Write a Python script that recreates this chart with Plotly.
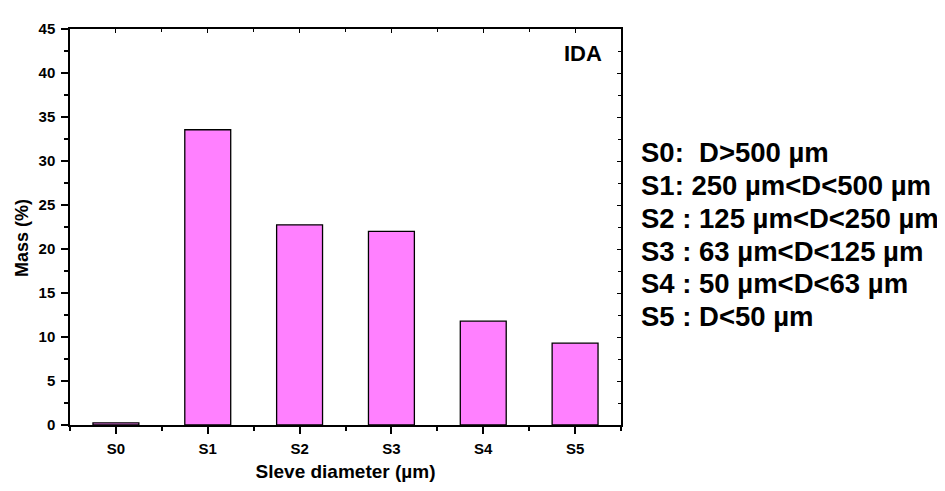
import plotly.graph_objects as go

categories = ["S0", "S1", "S2", "S3", "S4", "S5"]
mass = [0.25, 33.55, 22.75, 22.0, 11.8, 9.3]
y_ticks = [0, 5, 10, 15, 20, 25, 30, 35, 40, 45]
legend_lines = [
    "S0:  D>500 µm",
    "S1: 250 µm<D<500 µm",
    "S2 : 125 µm<D<250 µm",
    "S3 : 63 µm<D<125 µm",
    "S4 : 50 µm<D<63 µm",
    "S5 : D<50 µm",
]
sample_label = "IDA"

FONT = "Liberation Sans, Arial, sans-serif"
xpos = list(range(len(categories)))

# figure is drawn with an 8px page margin, so compensate
W, H = 937, 483
ML, MR, MT, MB = 62, 324, 12, 61
plot_h = H - MT - MB  # 410


def ypaper(ypix_page):
    # page pixel (reference coords) -> paper fraction
    return (430 - ypix_page) / plot_h


fig = go.Figure()
fig.add_trace(go.Bar(
    x=xpos, y=mass, width=0.5,
    marker=dict(color="#FF80FF", line=dict(color="black", width=1.3)),
    showlegend=False, hoverinfo="skip",
))
fig.add_trace(go.Scatter(x=[xpos[0]], y=[mass[0]], xaxis="x2", yaxis="y2",
                         mode="markers", marker=dict(opacity=0),
                         showlegend=False, hoverinfo="skip"))

common = dict(showgrid=False, zeroline=False, linecolor="black", linewidth=1.5)
annotations = [
    dict(text="<b>Mass (%)</b>", xref="paper", yref="paper",
         x=-0.088, y=ypaper(237), textangle=-90, showarrow=False,
         xanchor="center", yanchor="middle", font=dict(size=18)),
    dict(text="<b>" + sample_label + "</b>", xref="paper", yref="paper",
         x=0.969, y=ypaper(45), showarrow=False, xanchor="right",
         yanchor="middle", font=dict(size=22)),
]
for i, s in enumerate(legend_lines):
    annotations.append(dict(
        text="<b>" + s + "</b>", xref="paper", yref="paper",
        x=1.032, y=ypaper(148 + 34 * i), showarrow=False,
        xanchor="left", yanchor="middle", align="left", font=dict(size=27.5)))

fig.update_layout(
    width=W, height=H,
    margin=dict(l=ML, r=MR, t=MT, b=MB),
    plot_bgcolor="white", paper_bgcolor="white",
    font=dict(family=FONT, color="black"),
    xaxis=dict(
        **common, range=[-0.5, 5.5], tickvals=xpos,
        ticktext=["<b>" + c + "</b>" for c in categories],
        ticks="outside", ticklen=7, tickwidth=1.5, tickcolor="black",
        tickfont=dict(size=15), ticklabelstandoff=2,
        minor=dict(tick0=0.5, dtick=1, ticks="outside", ticklen=4,
                   tickwidth=1.5, tickcolor="black"),
        title=dict(text="<b>Sleve diameter (µm)</b>", font=dict(size=19), standoff=9),
    ),
    yaxis=dict(
        **common, range=[0, 45], tickvals=y_ticks,
        ticktext=["<b>%d</b>" % v for v in y_ticks],
        ticks="outside", ticklen=7, tickwidth=1.5, tickcolor="black",
        tickfont=dict(size=15), ticklabelstandoff=3,
        minor=dict(tick0=2.5, dtick=5, ticks="outside", ticklen=4,
                   tickwidth=1.5, tickcolor="black"),
    ),
    xaxis2=dict(
        **common, overlaying="x", side="top", anchor="y2", range=[-0.5, 5.5],
        tickvals=xpos, showticklabels=False, ticks="inside", ticklen=4,
        tickwidth=1, tickcolor="black",
        minor=dict(tick0=0.5, dtick=1, ticks="inside", ticklen=3,
                   tickwidth=1, tickcolor="black"),
    ),
    yaxis2=dict(
        **common, overlaying="y", side="right", anchor="x2", range=[0, 45],
        tickvals=y_ticks, showticklabels=False, ticks="inside", ticklen=4,
        tickwidth=1, tickcolor="black",
        minor=dict(tick0=2.5, dtick=5, ticks="inside", ticklen=3,
                   tickwidth=1, tickcolor="black"),
    ),
    annotations=annotations,
)

fig.write_html("out.html")
